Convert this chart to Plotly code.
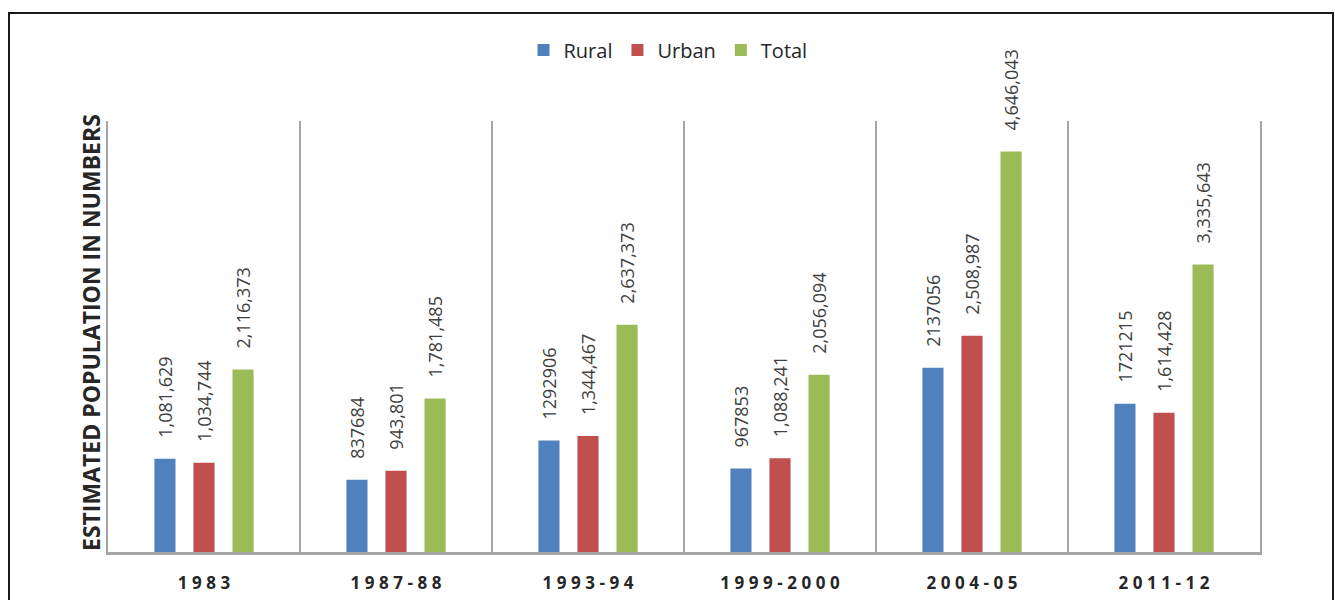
import plotly.graph_objects as go

periods = ["1983", "1987-88", "1993-94", "1999-2000", "2004-05", "2011-12"]
rural = [1081629, 837684, 1292906, 967853, 2137056, 1721215]
urban = [1034744, 943801, 1344467, 1088241, 2508987, 1614428]
total = [2116373, 1781485, 2637373, 2056094, 4646043, 3335643]
rural_labels = ["1,081,629", "837684", "1292906", "967853", "2137056", "1721215"]
urban_labels = ["1,034,744", "943,801", "1,344,467", "1,088,241", "2,508,987", "1,614,428"]
total_labels = ["2,116,373", "1,781,485", "2,637,373", "2,056,094", "4,646,043", "3,335,643"]

series = [
    ("Rural", rural, rural_labels, "#4F81BD"),
    ("Urban", urban, urban_labels, "#C0504D"),
    ("Total", total, total_labels, "#9BBB59"),
]

TS = "\u2009\u200a"
tick_text = [TS.join(list(p)) for p in periods]

fig = go.Figure()
for name, vals, labels, color in series:
    fig.add_trace(go.Bar(
        name=name, x=periods, y=vals,
        text=["\u2003" + s for s in labels],
        textposition="outside", textangle=-90, cliponaxis=False,
        constraintext="none",
        textfont=dict(family="Open Sans", size=18, color="#404040"),
        marker=dict(color=color, line=dict(width=0)),
    ))

W, H = 1335, 600
L, R, T, B = 108, 1260, 121, 552
pw, ph = R - L, B - T

def px(x):
    return (x - L) / pw

def py(y):
    return (B - y) / ph

fig.update_layout(
    width=W, height=H,
    margin=dict(l=L, r=W - R, t=T, b=H - B, autoexpand=False),
    paper_bgcolor="white", plot_bgcolor="white",
    barmode="group", bargap=0.39, bargroupgap=0.46,
    showlegend=True,
    legend=dict(orientation="h", x=px(668), xanchor="center", y=py(50), yanchor="middle",
                font=dict(family="Open Sans", size=20, color="#262626"),
                itemwidth=30, traceorder="normal", bgcolor="rgba(0,0,0,0)"),
    xaxis=dict(type="category", tickmode="array", tickvals=periods, ticktext=tick_text,
               tickson="boundaries", showgrid=True, gridcolor="#A6A6A6", gridwidth=2,
               showline=True, linecolor="#A6A6A6", linewidth=3, ticks="",
               tickfont=dict(family="Open Sans", size=17, color="#262626", weight="bold"),
               ticklabelstandoff=14, fixedrange=True),
    yaxis=dict(range=[0, 5000000], showgrid=False, zeroline=False, showticklabels=False,
               ticks="", showline=True, linecolor="#A6A6A6", linewidth=2, mirror=True,
               fixedrange=True),
    font=dict(family="Open Sans"),
)

fig.add_annotation(
    text="<b>ESTIMATED POPULATION IN NUMBERS</b>", xref="paper", yref="paper",
    x=px(91), y=py(333), xanchor="center", yanchor="middle", textangle=-90,
    showarrow=False, font=dict(family="Open Sans", size=23, color="#262626"),
)

fig.add_shape(type="rect", xref="paper", yref="paper",
              x0=px(9), x1=px(1333), y0=py(610), y1=py(13),
              line=dict(color="#1a1a1a", width=2), fillcolor="rgba(0,0,0,0)", layer="above")

fig.write_html("out.html", config={"displayModeBar": False},
               post_script="document.body.style.margin='0';document.body.style.overflow='hidden';")
